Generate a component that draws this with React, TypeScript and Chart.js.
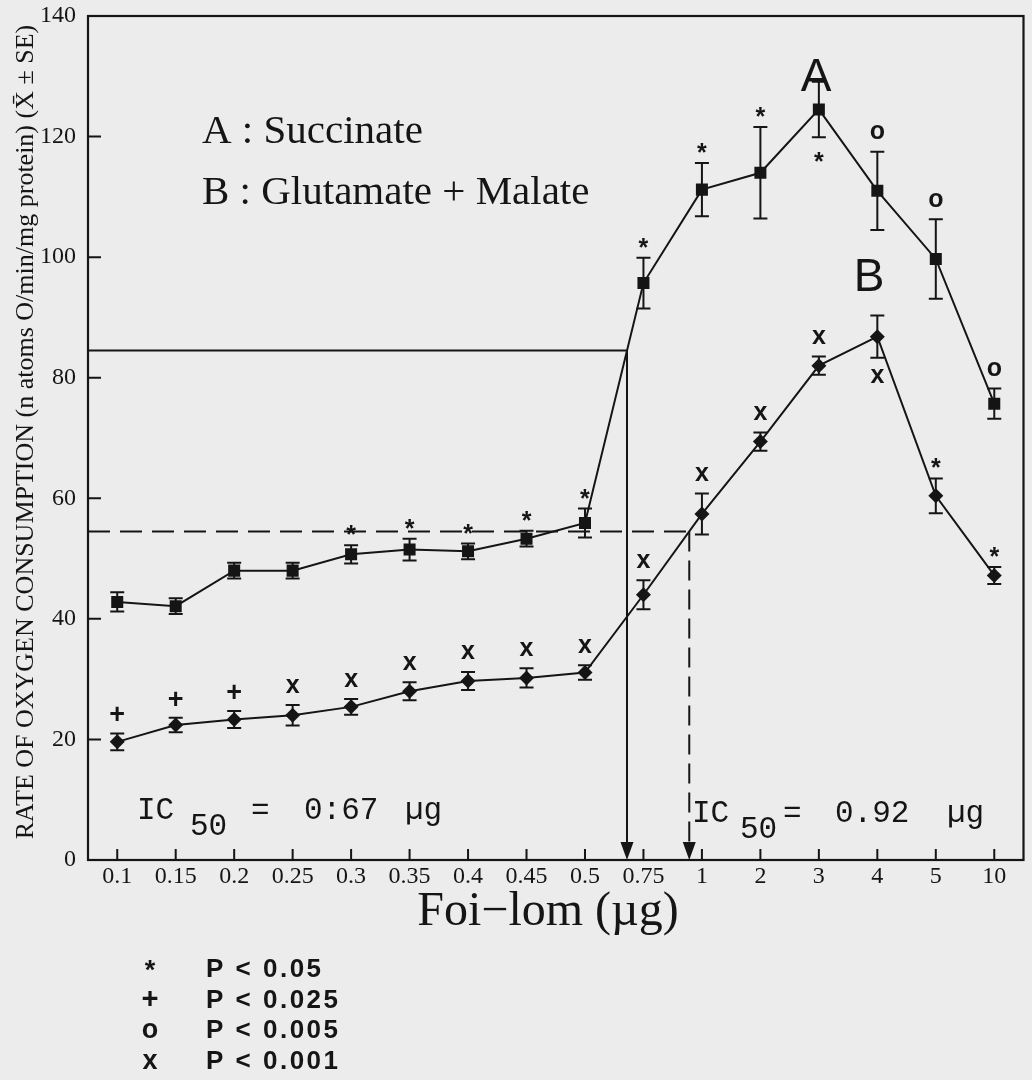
import { useEffect, useRef } from "react";
import { Chart, registerables } from "chart.js";

Chart.register(...registerables);

// ---------- data ----------
const doses = ["0.1", "0.15", "0.2", "0.25", "0.3", "0.35", "0.4", "0.45", "0.5", "0.75", "1", "2", "3", "4", "5", "10"];
const succinate = [42.8, 42.1, 48.0, 48.0, 50.7, 51.5, 51.2, 53.3, 55.9, 95.7, 111.2, 114.0, 124.5, 111.0, 99.7, 75.7];
const succinateSE = [1.6, 1.3, 1.3, 1.3, 1.5, 1.8, 1.3, 1.3, 2.4, 4.2, 4.4, 7.6, 4.6, 6.5, 6.6, 2.5];
const glutMal = [19.6, 22.4, 23.3, 24.0, 25.4, 28.0, 29.7, 30.2, 31.1, 44.0, 57.4, 69.4, 82.0, 86.8, 60.4, 47.2];
const glutMalSE = [1.4, 1.2, 1.4, 1.7, 1.3, 1.5, 1.5, 1.6, 1.2, 2.4, 3.4, 1.5, 1.5, 3.5, 2.9, 1.4];
const sigSuccinate = ["", "", "", "", "*", "*", "*", "*", "*", "*", "*", "*", "*", "o", "o", "o"];
const sigSuccinateBelow = [false, false, false, false, false, false, false, false, false, false, false, false, true, false, false, false];
const sigGlutMal = ["+", "+", "+", "x", "x", "x", "x", "x", "x", "x", "x", "x", "x", "x", "*", "*"];
const sigGlutMalBelow = [false, false, false, false, false, false, false, false, false, false, false, false, false, true, false, false];
const yTicks = [0, 20, 40, 60, 80, 100, 120, 140];
const halfSuccinate = 84.5;
const halfGlutMal = 54.5;
const ic50Succinate = "0:67";
const ic50GlutMal = "0.92";
const legendSymbols = ["*", "+", "o", "x"];
const legendLabels = ["P < 0.05", "P < 0.025", "P < 0.005", "P < 0.001"];

const INK = "#151515";
const PAPER = "#ececec";
const SERIF = "'Liberation Serif', 'DejaVu Serif', serif";
const SANS = "'Liberation Sans', Arial, sans-serif";
const MONO = "'Liberation Mono', 'DejaVu Sans Mono', monospace";

function crossingX(meta: any, values: number[], level: number) {
  for (let j = 0; j < values.length - 1; j++) {
    const a = values[j];
    const b = values[j + 1];
    if ((a - level) * (b - level) <= 0 && a !== b) {
      const t = (level - a) / (b - a);
      return meta.data[j].x + t * (meta.data[j + 1].x - meta.data[j].x);
    }
  }
  return null;
}

function arrowDown(ctx: CanvasRenderingContext2D, x: number, tipY: number) {
  ctx.beginPath();
  ctx.moveTo(x - 6.5, tipY - 18);
  ctx.lineTo(x + 6.5, tipY - 18);
  ctx.lineTo(x, tipY);
  ctx.closePath();
  ctx.fill();
}

function drawSymbol(ctx: CanvasRenderingContext2D, s: string, x: number, cy: number, scale = 1) {
  ctx.textAlign = "center";
  ctx.textBaseline = "alphabetic";
  if (s === "*") {
    const f = 25 * scale;
    ctx.font = `bold ${f}px ${SANS}`;
    ctx.fillText(s, x, cy + 0.56 * f);
  } else if (s === "+") {
    const f = 27 * scale;
    ctx.font = `bold ${f}px ${SANS}`;
    ctx.fillText(s, x, cy + 0.33 * f);
  } else {
    const f = 25 * scale;
    ctx.font = `bold ${f}px ${SANS}`;
    ctx.fillText(s, x, cy + 0.26 * f);
  }
}

const overlay = {
  id: "overlay",
  beforeDraw(chart: any) {
    const ctx = chart.ctx;
    ctx.save();
    ctx.fillStyle = PAPER;
    ctx.fillRect(0, 0, chart.width, chart.height);
    ctx.restore();
  },
  afterDatasetsDraw(chart: any) {
    const ctx: CanvasRenderingContext2D = chart.ctx;
    const ca = chart.chartArea;
    const xs = chart.scales.x;
    const ys = chart.scales.y;
    ctx.save();
    ctx.strokeStyle = INK;
    ctx.fillStyle = INK;
    ctx.lineCap = "butt";

    // frame
    ctx.lineWidth = 2.2;
    ctx.strokeRect(ca.left, ca.top, ca.right - ca.left, ca.bottom - ca.top);

    // inward ticks
    ctx.lineWidth = 2;
    ctx.beginPath();
    yTicks.forEach((v) => {
      const y = ys.getPixelForValue(v);
      ctx.moveTo(ca.left, y);
      ctx.lineTo(ca.left + 13, y);
    });
    doses.forEach((_, i) => {
      const x = xs.getPixelForValue(i);
      ctx.moveTo(x, ca.bottom);
      ctx.lineTo(x, ca.bottom - 11);
    });
    ctx.stroke();

    // error bars
    const series = [
      { vals: succinate, se: succinateSE, sig: sigSuccinate, below: sigSuccinateBelow, meta: chart.getDatasetMeta(0) },
      { vals: glutMal, se: glutMalSE, sig: sigGlutMal, below: sigGlutMalBelow, meta: chart.getDatasetMeta(1) },
    ];
    ctx.lineWidth = 2;
    series.forEach((s) => {
      s.vals.forEach((v, i) => {
        const x = s.meta.data[i].x;
        const yt = ys.getPixelForValue(v + s.se[i]);
        const yb = ys.getPixelForValue(v - s.se[i]);
        ctx.beginPath();
        ctx.moveTo(x, yt);
        ctx.lineTo(x, yb);
        ctx.moveTo(x - 7, yt);
        ctx.lineTo(x + 7, yt);
        ctx.moveTo(x - 7, yb);
        ctx.lineTo(x + 7, yb);
        ctx.stroke();
      });
    });

    // significance symbols
    series.forEach((s) => {
      s.vals.forEach((v, i) => {
        const sym = s.sig[i];
        if (!sym) return;
        const x = s.meta.data[i].x;
        if (s.below[i]) {
          const yb = ys.getPixelForValue(v - s.se[i]);
          drawSymbol(ctx, sym, x, yb + 19);
        } else {
          const yt = ys.getPixelForValue(v + s.se[i]);
          drawSymbol(ctx, sym, x, yt - (sym === "*" ? 16 : 19));
        }
      });
    });

    // IC50 reference lines
    const xA = crossingX(series[0].meta, succinate, halfSuccinate);
    const xB = crossingX(series[1].meta, glutMal, halfGlutMal);
    ctx.lineWidth = 2;
    if (xA !== null) {
      const y = ys.getPixelForValue(halfSuccinate);
      ctx.beginPath();
      ctx.moveTo(ca.left, y);
      ctx.lineTo(xA, y);
      ctx.lineTo(xA, ca.bottom - 16);
      ctx.stroke();
      arrowDown(ctx, xA, ca.bottom);
    }
    if (xB !== null) {
      const y = ys.getPixelForValue(halfGlutMal);
      ctx.setLineDash([22, 10]);
      ctx.beginPath();
      ctx.moveTo(ca.left, y);
      ctx.lineTo(xB, y);
      ctx.stroke();
      ctx.setLineDash([20, 9]);
      ctx.beginPath();
      ctx.moveTo(xB, y);
      ctx.lineTo(xB, ca.bottom - 16);
      ctx.stroke();
      ctx.setLineDash([]);
      arrowDown(ctx, xB, ca.bottom);
    }

    // IC50 labels
    ctx.textAlign = "left";
    ctx.textBaseline = "alphabetic";
    ctx.font = `31px ${MONO}`;
    const ic1 = 819;
    ctx.fillText("IC", 137, ic1);
    ctx.fillText("50", 190, ic1 + 16);
    ctx.fillText("=", 251, ic1);
    ctx.fillText(ic50Succinate, 304, ic1);
    ctx.fillText("\u00b5g", 405, ic1);
    const ic2 = 822;
    ctx.fillText("IC", 692, ic2);
    ctx.fillText("50", 740, ic2 + 16);
    ctx.fillText("=", 783, ic2);
    ctx.fillText(ic50GlutMal, 835, ic2);
    ctx.fillText("\u00b5g", 947, ic2);

    // series key
    ctx.font = `41px ${SERIF}`;
    ctx.fillText("A : Succinate", 202, 143);
    ctx.fillText("B : Glutamate + Malate", 202, 204);

    // curve letters
    ctx.textAlign = "center";
    ctx.font = `46px ${SANS}`;
    ctx.fillText("A", 816, 91);
    ctx.fillText("B", 869, 291);

    // axis titles
    ctx.font = `48px ${SERIF}`;
    ctx.fillText("Foi\u2212lom (\u00b5g)", 548, 925);
    ctx.save();
    ctx.translate(33, 432);
    ctx.rotate(-Math.PI / 2);
    ctx.font = `26px ${SERIF}`;
    ctx.fillText("RATE OF OXYGEN CONSUMPTION (n atoms O/min/mg protein) (X\u0304 \u00b1 SE)", 0, 0);
    ctx.restore();

    // significance legend
    legendSymbols.forEach((sym, i) => {
      const base = 977 + i * 30.5;
      const cy = sym === "*" ? base - 13 : sym === "+" ? base - 9 : base - 7;
      drawSymbol(ctx, sym, 150, cy, 1.08);
      ctx.textAlign = "left";
      ctx.textBaseline = "alphabetic";
      ctx.font = `bold 26px ${SANS}`;
      (ctx as any).letterSpacing = "2.5px";
      ctx.fillText(legendLabels[i], 206, base);
      (ctx as any).letterSpacing = "0px";
    });

    ctx.restore();
  },
};

export default function App() {
  const ref = useRef<HTMLCanvasElement | null>(null);
  useEffect(() => {
    if (!ref.current) return;
    const chart = new Chart(ref.current, {
      type: "line",
      data: {
        labels: doses,
        datasets: [
          {
            label: "A : Succinate",
            data: succinate,
            borderColor: INK,
            backgroundColor: INK,
            borderWidth: 2,
            pointStyle: "rect",
            pointRadius: 8.5,
            pointBorderWidth: 0,
            pointBackgroundColor: INK,
            tension: 0,
          },
          {
            label: "B : Glutamate + Malate",
            data: glutMal,
            borderColor: INK,
            backgroundColor: INK,
            borderWidth: 2,
            pointStyle: "rectRot",
            pointRadius: 7.5,
            pointBorderWidth: 0,
            pointBackgroundColor: INK,
            tension: 0,
          },
        ],
      },
      options: {
        responsive: false,
        animation: false,
        layout: { padding: { top: 16, right: 8, left: 0, bottom: 0 } },
        plugins: {
          legend: { display: false },
          tooltip: { enabled: false },
          title: { display: false },
        },
        scales: {
          x: {
            type: "category",
            offset: true,
            grid: { display: false, drawTicks: false },
            border: { display: false },
            ticks: {
              color: INK,
              font: { family: SERIF, size: 24 },
              padding: 2,
              maxRotation: 0,
              autoSkip: false,
            },
            afterFit: (s: any) => {
              s.height = 220;
              s.paddingLeft = 0;
              s.paddingRight = 0;
            },
          },
          y: {
            min: 0,
            max: 140,
            grid: { display: false, drawTicks: false },
            border: { display: false },
            ticks: {
              stepSize: 20,
              color: INK,
              font: { family: SERIF, size: 24 },
              padding: 12,
            },
            afterFit: (s: any) => {
              s.width = 88;
              s.paddingTop = 0;
              s.paddingBottom = 0;
            },
          },
        },
      },
      plugins: [overlay],
    });
    return () => chart.destroy();
  }, []);
  return (
    <canvas
      ref={ref}
      width={1032}
      height={1080}
      style={{ position: "absolute", left: 0, top: 0 }}
    />
  );
}
